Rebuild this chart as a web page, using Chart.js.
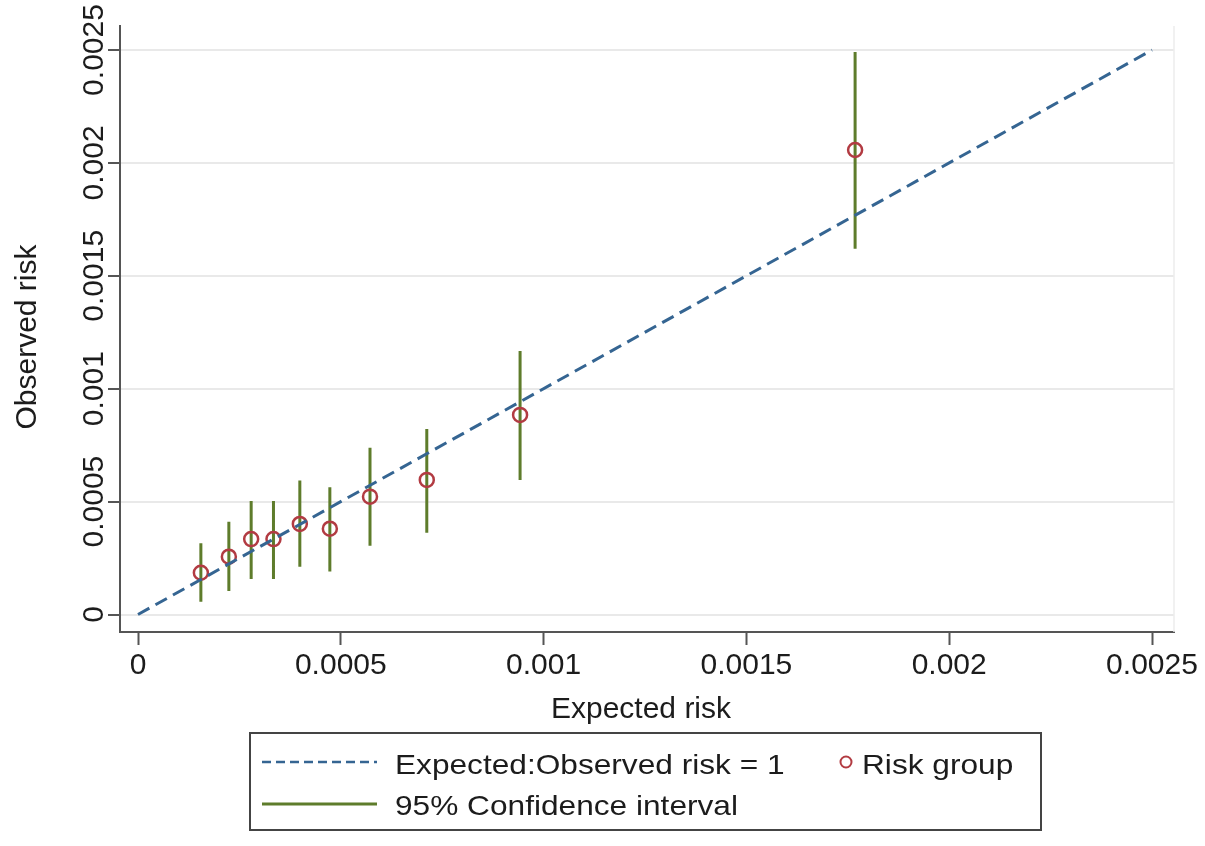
<!DOCTYPE html>
<html><head><meta charset="utf-8">
<script src="https://cdn.jsdelivr.net/npm/chart.js@4.4.0/dist/chart.umd.min.js"></script>
<style>html,body{margin:0;padding:0;background:#fff;overflow:hidden}</style>
</head><body>
<canvas id="c" width="1205" height="846"></canvas>
<script>
// ---- data ----
const expectedRisk = [0.000155, 0.000224, 0.000279, 0.000334, 0.000399, 0.000473, 0.000572, 0.000712, 0.000942, 0.001768];
const observedRisk = [0.000185, 0.000256, 0.000334, 0.000334, 0.000401, 0.000380, 0.000522, 0.000596, 0.000884, 0.002057];
const ciLower      = [0.000057, 0.000104, 0.000157, 0.000157, 0.000212, 0.000190, 0.000305, 0.000362, 0.000596, 0.001620];
const ciUpper      = [0.000315, 0.000411, 0.000503, 0.000503, 0.000593, 0.000563, 0.000739, 0.000822, 0.001167, 0.002491];
const refLineX = [0, 0.0025];
const refLineY = [0, 0.0025];
const tickValues = [0, 0.0005, 0.001, 0.0015, 0.002, 0.0025];
const tickLabels = ['0', '0.0005', '0.001', '0.0015', '0.002', '0.0025'];
const xTitle = 'Expected risk';
const yTitle = 'Observed risk';
const legendLabels = ['Expected:Observed risk = 1', 'Risk group', '95% Confidence interval'];

// ---- styles ----
const BLUE = '#356592';
const RED = '#b23b42';
const GREEN = '#5e7c2b';
const AXIS = '#555555';
const TEXT = '#1c1c1c';
const FONT = "'Liberation Sans', Arial, sans-serif";

const ciData = [];
expectedRisk.forEach((e, i) => {
  ciData.push({x: e, y: ciLower[i]}, {x: e, y: ciUpper[i]}, {x: e, y: null});
});
const pointData = expectedRisk.map((e, i) => ({x: e, y: observedRisk[i]}));
const refData = refLineX.map((x, i) => ({x: x, y: refLineY[i]}));

const fixTicks = (scale) => { scale.ticks = tickValues.map(v => ({value: v})); };

const overlay = {
  id: 'overlay',
  afterDraw(chart) {
    const ctx = chart.ctx;
    const ys = chart.scales.y;
    const ca = chart.chartArea;
    ctx.save();
    // faint right border of plot region
    ctx.strokeStyle = '#ececec';
    ctx.lineWidth = 1.5;
    ctx.beginPath();
    ctx.moveTo(ca.right, ca.top); ctx.lineTo(ca.right, ca.bottom);
    ctx.stroke();

    ctx.fillStyle = TEXT;
    // y tick labels (rotated)
    ctx.font = '30px ' + FONT;
    ctx.textAlign = 'center';
    ctx.textBaseline = 'alphabetic';
    tickValues.forEach((v, i) => {
      const py = ys.getPixelForValue(v);
      ctx.save();
      ctx.translate(103, py);
      ctx.rotate(-Math.PI / 2);
      ctx.fillText(tickLabels[i], 0, 0);
      ctx.restore();
    });
    // y title
    ctx.save();
    ctx.translate(36, 337);
    ctx.rotate(-Math.PI / 2);
    ctx.fillText(yTitle, 0, 0);
    ctx.restore();
    // x title
    ctx.fillText(xTitle, 641, 718);

    // legend box
    ctx.strokeStyle = '#444';
    ctx.lineWidth = 2;
    ctx.strokeRect(250, 733, 791, 97);
    // dashed sample
    ctx.strokeStyle = BLUE;
    ctx.lineWidth = 2.5;
    ctx.setLineDash([9, 5]);
    ctx.beginPath(); ctx.moveTo(262, 762); ctx.lineTo(377, 762); ctx.stroke();
    ctx.setLineDash([]);
    // solid sample
    ctx.strokeStyle = GREEN;
    ctx.lineWidth = 3;
    ctx.beginPath(); ctx.moveTo(262, 804); ctx.lineTo(377, 804); ctx.stroke();
    // marker sample
    ctx.strokeStyle = RED;
    ctx.lineWidth = 2;
    ctx.beginPath(); ctx.arc(846, 762, 5.5, 0, Math.PI * 2); ctx.stroke();
    // legend texts (wide rendering as in the reference)
    ctx.fillStyle = TEXT;
    ctx.font = '28px ' + FONT;
    ctx.textAlign = 'left';
    const drawWide = (t, x, y) => {
      ctx.save(); ctx.translate(x, y); ctx.scale(1.13, 1); ctx.fillText(t, 0, 0); ctx.restore();
    };
    drawWide(legendLabels[0], 395, 774);
    drawWide(legendLabels[1], 862, 774);
    drawWide(legendLabels[2], 395, 815);
    ctx.restore();
  }
};

new Chart(document.getElementById('c'), {
  type: 'scatter',
  data: {
    datasets: [
      {
        label: legendLabels[0], data: refData, showLine: true,
        borderColor: BLUE, borderWidth: 3, borderDash: [13, 7],
        pointRadius: 0, order: 1
      },
      {
        label: legendLabels[1], data: pointData, showLine: false,
        pointStyle: 'circle', pointRadius: 7, pointBorderWidth: 2.5,
        pointBorderColor: RED, pointBackgroundColor: 'rgba(0,0,0,0)', order: 2
      },
      {
        label: legendLabels[2], data: ciData, showLine: true, spanGaps: false,
        borderColor: GREEN, borderWidth: 3, pointRadius: 0, order: 3
      }
    ]
  },
  options: {
    responsive: false,
    animation: false,
    devicePixelRatio: 1,
    events: [],
    layout: { padding: { left: 0, top: 26, right: 31, bottom: 0 } },
    plugins: { legend: { display: false }, tooltip: { enabled: false } },
    scales: {
      x: {
        type: 'linear',
        min: -18 / 405600, max: 1036 / 405600,
        afterBuildTicks: fixTicks,
        afterFit: (s) => { s.height = 214; },
        border: { display: true, color: AXIS, width: 2 },
        grid: { drawOnChartArea: false, drawTicks: true, tickLength: 13, tickColor: AXIS, tickWidth: 2 },
        ticks: {
          padding: 3, color: TEXT, font: { family: FONT, size: 30 },
          maxRotation: 0, minRotation: 0,
          callback: (v) => { const i = tickValues.indexOf(v); return i >= 0 ? tickLabels[i] : ''; }
        }
      },
      y: {
        type: 'linear',
        min: -17.5 / 225800, max: 588.5 / 225800,
        afterBuildTicks: fixTicks,
        afterFit: (s) => { s.width = 120; },
        border: { display: true, color: AXIS, width: 2 },
        grid: { drawOnChartArea: true, color: '#e9e9e9', lineWidth: 2, drawTicks: true, tickLength: 12, tickColor: AXIS, tickWidth: 2 },
        ticks: { display: false }
      }
    }
  },
  plugins: [overlay]
});
</script>
</body></html>
